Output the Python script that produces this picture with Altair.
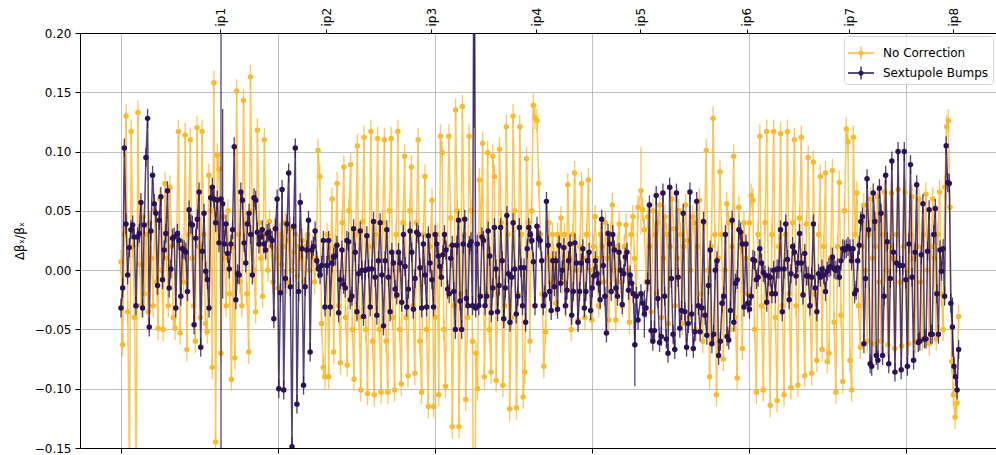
import altair as alt
import numpy as np
import pandas as pd

SERIES = ["No Correction", "Sextupole Bumps"]
COLORS = ["#FBB92E", "#2B1158"]

# longitudinal extent (m) of the BPM groups between the IPs
SEG_START_M = [0, 3183, 6556, 9898, 13240, 16550, 19892, 23201]
SEG_END_M = [3119, 6493, 9835, 13176, 16455, 19828, 23138, 26659]

IP_NAMES = ["ip1", "ip2", "ip3", "ip4", "ip5", "ip6", "ip7", "ip8"]
IP_S_M = [3151, 6525, 9867, 13209, 16520, 19916, 23182, 26492]
S_TICKS = [0, 5000, 10000, 15000, 20000, 25000]
Y_TICKS = [-0.15, -0.10, -0.05, 0.0, 0.05, 0.10, 0.15, 0.20]
X_DOMAIN = [-1305, 27849]
Y_DOMAIN = [-0.15, 0.20]

# typical error bar half-length; (value, error) tuples mark larger ones
DEFAULT_ERR = {"No Correction": 0.010, "Sextupole Bumps": 0.008}

NOCORR_SEG = [
    [0.007, -0.063, 0.03, 0.130, -0.035, -0.17, 0.117, 0.02, -0.040, -0.17, 0.133, 0.005, -0.03, 0.045,
     -0.02, 0.03, -0.035, 0.04, 0.01, -0.03, 0.05, -0.01, -0.049, 0.06, 0.0, -0.05, 0.073, 0.01, -0.03,
     0.070, 0.02, -0.04, -0.049, 0.03, 0.117, -0.053, 0.02, -0.01, 0.114, -0.067, 0.03, 0.110, 0.01,
     -0.03, -0.060, 0.120, 0.02, -0.04, 0.117, 0.03, -0.045, -0.052, 0.08, 0.05, -0.082, 0.158, -0.145,
     0.097, 0.085],
    [-0.070, 0.045, 0.01, -0.03, 0.05, -0.02, -0.092, 0.02, -0.074, 0.151, 0.03, -0.01, -0.030, 0.143,
     0.04, -0.02, -0.069, 0.163, 0.05, 0.0, -0.035, 0.118, 0.04, 0.01, -0.022, 0.110, 0.03, 0.0, 0.041,
     0.02, -0.01, 0.035, 0.01, -0.015, 0.03, 0.005, 0.02, 0.04, -0.01, 0.025, 0.035, 0.0, 0.015, 0.03,
     -0.005, 0.02, 0.01, 0.025, -0.01, 0.02, 0.03, 0.0, 0.015, 0.02, -0.01, 0.01, 0.101, 0.079, -0.045,
     -0.082, -0.090],
    [0.03, -0.090, 0.01, 0.060, -0.069, 0.02, 0.073, -0.03, -0.078, 0.04, 0.087, -0.04, -0.080, 0.05,
     0.089, -0.05, -0.092, 0.03, 0.105, -0.04, -0.101, 0.041, 0.112, -0.05, -0.104, 0.02, 0.117, -0.06,
     -0.105, 0.03, 0.111, -0.05, -0.103, 0.04, 0.110, -0.06, -0.103, 0.05, 0.111, -0.04, -0.101, 0.03,
     0.117, -0.05, -0.096, 0.04, 0.096, -0.04, -0.089, 0.05, 0.087, -0.03, -0.087, 0.04, 0.110, -0.06,
     -0.103, 0.03, 0.079, -0.05, -0.115, 0.02],
    [0.059, -0.115, -0.04, 0.03, -0.105, 0.113, 0.099, -0.05, -0.098, 0.02, 0.113, 0.044, -0.132, -0.03,
     0.135, 0.05, -0.132, -0.02, 0.138, 0.03, -0.109, -0.04, 0.113, 0.05, -0.06, -0.35, -0.07, -0.100,
     0.076, 0.03, 0.107, -0.090, -0.02, 0.099, -0.05, -0.086, 0.096, 0.079, -0.093, -0.02, 0.102, 0.04,
     -0.097, -0.03, 0.121, 0.03, -0.117, -0.04, 0.130, 0.05, -0.116, -0.02, 0.121, 0.03, -0.107, -0.086,
     0.094, 0.04, -0.06, 0.05, 0.139, 0.129],
    [0.126, 0.073, 0.03, -0.02, -0.081, -0.052, 0.01, 0.04, -0.01, 0.03, 0.01, -0.028, 0.03, 0.02, 0.044,
     -0.01, 0.03, -0.03, 0.072, 0.01, -0.050, 0.03, 0.082, 0.0, -0.042, 0.02, 0.073, 0.01, -0.040, 0.03,
     0.076, 0.0, -0.042, 0.02, 0.045, 0.01, -0.03, 0.03, 0.02, -0.01, 0.04, 0.01, -0.042, 0.03, 0.055,
     0.0, -0.042, 0.02, 0.039, -0.01, -0.03, 0.02, 0.038, 0.0, -0.044, 0.03, 0.045, 0.01, -0.02, 0.053],
    [(0.067, 0.037), 0.051, 0.034, -0.01, 0.045, 0.02, -0.035, 0.05, 0.03, -0.02, 0.04, 0.055, -0.04,
     0.01, 0.045, 0.03, -0.045, 0.02, 0.06, 0.035, -0.03, 0.01, 0.05, 0.03, -0.045, 0.02, 0.055, 0.025,
     -0.04, 0.0, 0.045, 0.04, -0.05, 0.02, 0.059, -0.02, -0.06, 0.04, 0.101, 0.0, -0.090, 0.02, 0.128,
     0.03, -0.105, 0.01, 0.083, 0.03, -0.075, 0.0, 0.056, 0.04, -0.05, 0.02, 0.096, -0.04, -0.091, 0.053,
     0.02, -0.066, 0.04],
    [0.01, -0.02, 0.04, 0.063, 0.059, -0.05, -0.103, 0.03, 0.113, -0.03, -0.101, 0.04, 0.117, -0.02,
     -0.114, 0.03, 0.117, -0.04, -0.110, 0.02, 0.115, -0.03, -0.105, 0.03, 0.117, -0.02, -0.099, 0.04,
     0.110, -0.03, -0.097, 0.044, 0.112, -0.02, -0.089, 0.039, 0.095, -0.03, -0.087, 0.091, -0.02,
     -0.076, 0.03, 0.079, -0.067, 0.02, 0.082, -0.077, -0.070, 0.01, 0.084, -0.044, -0.103, 0.02, 0.074,
     -0.038, -0.094, 0.05, 0.119, 0.108],
    [-0.076, -0.101, 0.112, 0.03, 0.065, -0.03, -0.065, 0.02, 0.055, 0.0, -0.06, 0.03, 0.060, 0.01,
     -0.062, 0.02, 0.062, -0.01, -0.060, 0.03, 0.066, 0.0, -0.063, 0.02, 0.065, 0.01, -0.066, 0.03,
     0.068, -0.01, -0.064, 0.02, 0.066, 0.0, -0.062, 0.03, 0.062, 0.01, -0.060, 0.02, 0.060, -0.01,
     -0.058, 0.03, 0.064, 0.0, -0.062, 0.02, 0.060, 0.01, -0.058, 0.03, 0.066, -0.02, -0.050, 0.07,
     0.121, 0.126, 0.053, -0.077, -0.105, -0.124, -0.112, -0.039],
]

SEXT_SEG = [
    [-0.032, -0.015, 0.103, 0.039, -0.004, 0.019, 0.034, 0.038, 0.028, -0.030, 0.028, 0.031, 0.057,
     -0.032, 0.038, 0.095, 0.128, -0.048, 0.033, 0.080, 0.056, 0.048, -0.013, 0.042, 0.062, -0.008,
     0.017, 0.031, 0.067, -0.015, 0.001, 0.027, 0.028, -0.032, 0.031, 0.025, -0.022, 0.018, 0.017, 0.015,
     -0.018, 0.051, 0.039, 0.038, -0.046, 0.027, 0.043, 0.066, -0.065, 0.016, 0.048, -0.001, -0.008,
     -0.032, 0.061, 0.070, 0.060, 0.040, 0.059, 0.023],
    [(0.060, 0.30), (0.056, 0.08), 0.022, 0.039, 0.014, 0.001, 0.022, 0.034, 0.104, -0.025, -0.003,
     -0.004, 0.066, 0.059, 0.023, 0.006, 0.039, 0.048, 0.030, -0.004, 0.061, 0.059, 0.032, 0.022, 0.028,
     0.034, 0.022, 0.017, 0.031, 0.032, 0.027, 0.025, -0.041, 0.035, 0.060, -0.100, -0.019, 0.068,
     -0.101, -0.007, 0.039, 0.082, -0.014, -0.149, 0.037, 0.103, -0.113, -0.018, 0.057, 0.018, -0.097,
     -0.014, 0.017, 0.042, -0.069, 0.017, 0.020, 0.033, 0.008, 0.001, -0.004, 0.004, 0.025, -0.031],
    [0.004, 0.025, -0.031, 0.006, 0.011, 0.012, 0.021, -0.036, -0.008, 0.017, -0.012, -0.015, 0.025,
     0.024, -0.025, -0.022, 0.035, 0.015, -0.035, -0.003, 0.033, 0.000, -0.039, 0.000, 0.029, 0.001,
     -0.031, 0.001, 0.041, -0.006, -0.038, 0.008, 0.040, -0.004, -0.047, 0.008, 0.034, -0.006, -0.035,
     0.015, 0.006, -0.016, -0.021, 0.015, 0.006, -0.027, 0.030, 0.003, -0.031, -0.016, 0.033, 0.015,
     -0.033, -0.007, 0.032, 0.030, 0.002, -0.032, 0.022, -0.004, -0.031, 0.029, 0.006],
    [-0.008, -0.031, 0.030, 0.022, 0.012, 0.003, -0.006, 0.013, 0.030, 0.017, -0.016, -0.020, 0.010,
     0.021, -0.018, -0.050, 0.021, 0.042, -0.026, -0.050, 0.022, 0.043, -0.024, -0.030, 0.021, 0.024,
     -0.030, (0.35, 0.23), -0.032, 0.022, -0.030, -0.022, 0.028, 0.025, -0.030, -0.022, 0.033, 0.012,
     -0.036, -0.015, 0.036, 0.001, -0.035, -0.013, 0.036, 0.008, -0.041, -0.015, 0.046, -0.003, -0.044,
     -0.006, 0.040, 0.001, -0.037, -0.022, 0.036, 0.002, -0.030, 0.002, -0.044, 0.018, 0.036, 0.030,
     0.025, 0.007, -0.030],
    [0.037, 0.027, 0.025, 0.008, -0.030, -0.021, 0.058, 0.021, -0.018, -0.034, 0.008, -0.014, 0.008,
     -0.033, 0.021, -0.011, 0.000, 0.019, -0.030, -0.017, 0.008, 0.022, -0.038, -0.018, 0.023, 0.006,
     -0.044, -0.018, 0.006, 0.018, -0.032, -0.018, 0.008, 0.015, -0.034, -0.015, -0.005, 0.008, -0.003,
     -0.011, -0.025, 0.043, 0.004, -0.022, -0.053, 0.031, 0.022, -0.018, 0.030, 0.017, -0.015, -0.022,
     0.015, 0.000, -0.029, -0.003, 0.011, 0.015, -0.017, -0.004, -0.011, -0.020, (-0.063, 0.035),
     -0.022, -0.042],
    [-0.020, -0.028, (-0.037, 0.02), -0.032, -0.010, 0.055, -0.051, -0.060, -0.051, 0.063, -0.024,
     -0.061, -0.056, 0.065, -0.022, -0.058, -0.070, 0.070, -0.007, -0.054, -0.067, 0.065, -0.006, -0.049,
     -0.034, 0.048, -0.035, -0.065, -0.045, 0.066, -0.037, -0.066, -0.052, 0.058, -0.030, -0.052, -0.032,
     0.041, -0.038, -0.055, -0.013, 0.017, -0.062, -0.054, 0.000, 0.008, -0.072, -0.060, -0.028, -0.022,
     0.030, -0.056, -0.059, -0.034, 0.042, -0.044, -0.011, -0.008, 0.034, 0.032, 0.022, -0.031],
    [0.022, -0.028, -0.033, -0.022, 0.009, 0.008, -0.008, -0.006, 0.018, 0.006, -0.002, -0.004, -0.027,
     -0.005, -0.006, -0.020, 0.000, -0.020, 0.001, 0.001, 0.034, -0.035, 0.001, 0.039, 0.009, -0.025,
     -0.003, 0.020, 0.015, -0.005, 0.006, 0.031, 0.006, -0.021, 0.014, -0.005, -0.005, -0.030, -0.006,
     0.039, -0.015, -0.035, -0.003, -0.006, 0.001, -0.004, -0.018, -0.001, 0.002, 0.003, 0.011, 0.001,
     0.000, 0.002, -0.006, 0.008, 0.018, 0.017, 0.018, 0.020],
    [0.018, 0.008, 0.018, -0.020, -0.017, 0.008, 0.021, 0.041, 0.045, -0.062, -0.007, 0.077, 0.034,
     -0.079, -0.081, 0.065, 0.041, -0.072, -0.076, 0.069, 0.048, -0.072, -0.022, 0.080, 0.024, -0.079,
     -0.007, 0.092, 0.015, -0.086, 0.006, 0.100, 0.004, -0.084, 0.004, 0.100, -0.008, -0.081, 0.022,
     0.089, -0.006, -0.076, 0.015, 0.072, -0.061, -0.060, 0.013, 0.056, -0.058, -0.058, 0.016, 0.051,
     -0.054, -0.054, 0.030, 0.052, -0.020, -0.054, 0.017, -0.001, 0.018, -0.022, 0.105, 0.074, 0.073,
     -0.028, (-0.048, 0.025), -0.081, -0.090, -0.101, -0.067],
]


def build(name, segments):
    rows = []
    k = 0
    for vals, a, b in zip(segments, SEG_START_M, SEG_END_M):
        pos = np.linspace(a, b, len(vals))
        for s, item in zip(pos, vals):
            if isinstance(item, tuple):
                v, e = item
            else:
                v, e = item, DEFAULT_ERR[name]
            rows.append({"series": name, "s": float(s), "v": v, "lo": v - e, "hi": v + e, "k": k})
            k += 1
    return pd.DataFrame(rows)


df_nc = build(SERIES[0], NOCORR_SEG)
df_sb = build(SERIES[1], SEXT_SEG)

FONT = "DejaVu Sans"
x_scale = alt.Scale(domain=X_DOMAIN, nice=False, zero=False)
y_scale = alt.Scale(domain=Y_DOMAIN, nice=False, zero=False)
color_scale = alt.Scale(domain=SERIES, range=COLORS)

SYMBOL_PATH = ("M-1,-0.06H1V0.06H-1Z M-0.05,-0.5H0.05V0.5H-0.05Z "
               "M-0.2,0A0.2,0.2 0 1,1 0.2,0A0.2,0.2 0 1,1 -0.2,0Z")
legend = alt.Legend(
    title=None, orient="top-right", offset=3, symbolType=SYMBOL_PATH, symbolSize=676,
    symbolStrokeWidth=0, symbolOpacity=1, labelFont=FONT, labelFontSize=12, labelColor="black",
    labelOffset=9, fillColor="rgba(255,255,255,0.8)", strokeColor="#d4d4d4", cornerRadius=3,
    padding=4, rowPadding=0,
)

bottom_axis = alt.Axis(
    orient="bottom", values=S_TICKS, labels=False, title=None, grid=True, gridColor="#b0b0b0",
    gridWidth=0.8, tickSize=5, tickColor="black", domainColor="black", domainWidth=1,
)
ip_expr = " : ".join(f"datum.value == {s} ? '{n}'" for s, n in zip(IP_S_M, IP_NAMES)) + " : ''"
top_axis = alt.Axis(
    orient="top", values=IP_S_M, labelExpr=ip_expr, title=None, grid=False, tickSize=4,
    tickColor="black", domainColor="black", domainWidth=1, labelAngle=270, labelAlign="left",
    labelBaseline="middle", labelPadding=3, labelFont=FONT, labelFontSize=12, labelColor="black",
    labelOverlap=False, labelBound=False, labelFlush=False,
)
y_axis = alt.Axis(
    orient="left", values=Y_TICKS, format=".2f", title="Δβₓ/βₓ", titleFont=FONT, titleFontSize=12,
    titleFontWeight="normal", titleColor="black", titlePadding=8, grid=True, gridColor="#b0b0b0",
    gridWidth=0.8, tickSize=5, tickColor="black", domainColor="black", domainWidth=1,
    labelFont=FONT, labelFontSize=12, labelColor="black", labelPadding=4, labelFlush=False,
)


def series_layers(df, first):
    base = alt.Chart(df)
    stroke = alt.Stroke("series:N", scale=color_scale, legend=legend)
    line = base.mark_line(strokeWidth=1.5, opacity=0.8, clip=True).encode(
        x=alt.X("s:Q", scale=x_scale, axis=bottom_axis if first else top_axis),
        y=alt.Y("v:Q", scale=y_scale, axis=y_axis),
        order="k:Q",
        stroke=stroke,
    )
    rule = base.mark_rule(strokeWidth=1.3, opacity=0.8, clip=True).encode(
        x=alt.X("s:Q", scale=x_scale, axis=None),
        y=alt.Y("lo:Q", scale=y_scale, axis=y_axis),
        y2="hi:Q",
        stroke=stroke,
    )
    pts = base.mark_point(filled=True, size=30, opacity=1, clip=True).encode(
        x=alt.X("s:Q", scale=x_scale, axis=None),
        y=alt.Y("v:Q", scale=y_scale, axis=y_axis),
        color=alt.Color("series:N", scale=color_scale, legend=legend),
    )
    return [line, rule, pts]


layers = series_layers(df_nc, True) + series_layers(df_sb, False)

chart = (
    alt.layer(*layers)
    .resolve_axis(x="independent")
    .properties(
        width=916, height=415,
        padding={"left": 80, "top": 33, "right": 0, "bottom": 7},
        autosize=alt.AutoSizeParams(type="none"),
        background="white",
    )
    .configure_view(stroke=None)
    .configure(font=FONT)
)

chart.save("out.html", embed_options={"renderer": "svg", "actions": False})
